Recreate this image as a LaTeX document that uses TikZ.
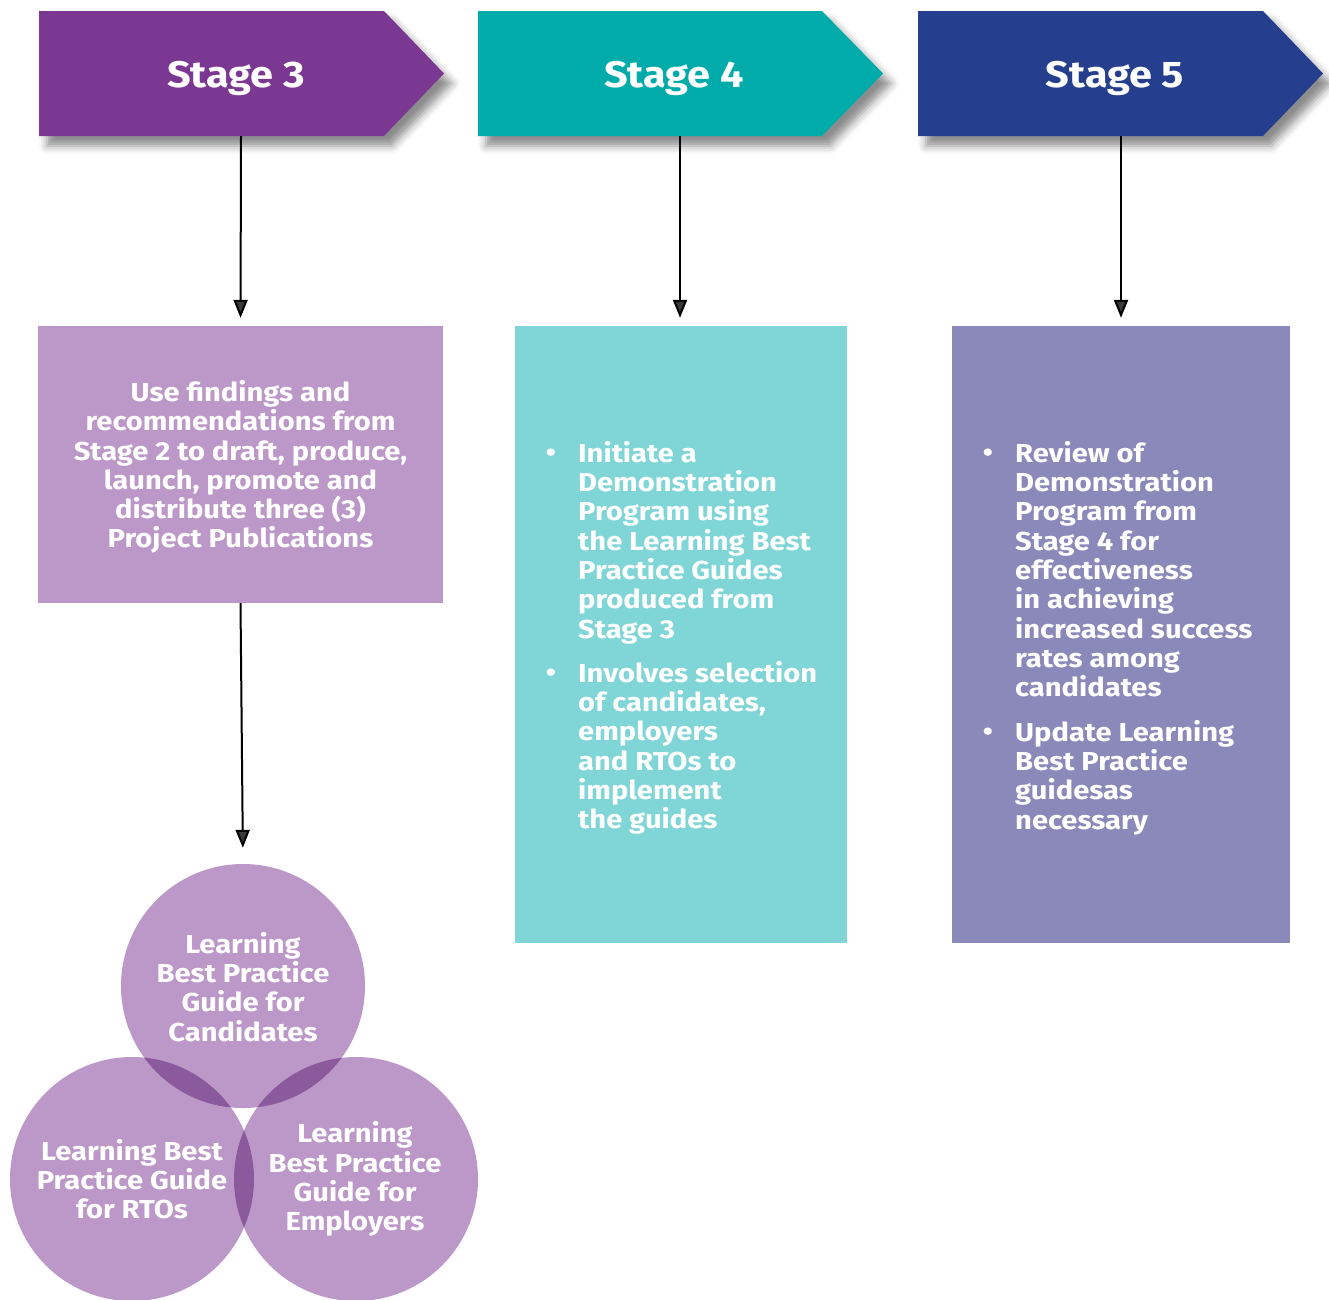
\documentclass[tikz,border=0pt]{standalone}
\usepackage{fontspec}
\setmainfont{Fira Sans}[FakeStretch=1.12]
\usetikzlibrary{shadows.blur,arrows.meta}
\definecolor{stthree}{HTML}{7B3892}
\definecolor{stfour}{HTML}{00ABAA}
\definecolor{stfive}{HTML}{253F8E}
\definecolor{bxthree}{HTML}{BC98C8}
\definecolor{bxfour}{HTML}{80D5D6}
\definecolor{bxfive}{HTML}{8A89BA}
\tikzset{
  stageshape/.style={blur shadow={shadow xshift=8pt, shadow yshift=-10pt, shadow blur radius=8pt, shadow opacity=45}},
  stagetext/.style={text=white, font=\fontsize{37}{40}\selectfont\bfseries, inner sep=0pt},
  bodytext/.style={text=white, font=\fontsize{26}{29.3}\selectfont\bfseries, inner sep=0pt},
  conn/.style={line width=2pt, -{Triangle[length=18pt,width=14pt]}},
  infobox/.style={draw=none, inner sep=0pt},
  venn/.style={circle, fill=bxthree, minimum size=244pt, inner sep=0pt}
}
\begin{document}
\begin{tikzpicture}[x=1pt,y=-1pt]
\useasboundingbox (0,0) rectangle (1329,1299);
% stage arrows
\path[fill=stthree, stageshape] (39,11) -- (384,11) -- (444,73.5) -- (384,136) -- (39,136) -- cycle;
\path[fill=stfour, stageshape] (478,11) -- (822,11) -- (883,73.5) -- (822,136) -- (478,136) -- cycle;
\path[fill=stfive, stageshape] (918,11) -- (1263,11) -- (1323,73.5) -- (1263,136) -- (918,136) -- cycle;
\node[stagetext] (s3) at (236,78) {Stage 3};
\node[stagetext] (s4) at (674,78) {Stage 4};
\node[stagetext] (s5) at (1115,78) {Stage 5};
\coordinate (s3b) at (241,136);
\coordinate (s4b) at (680,136);
\coordinate (s5b) at (1121,136);
% boxes
\node[infobox, fill=bxthree, minimum width=405pt, minimum height=277pt] (b3) at (240.5,464.5) {};
\node[infobox, fill=bxfour, minimum width=332pt, minimum height=617pt] (b4) at (681,634.5) {};
\node[infobox, fill=bxfive, minimum width=338pt, minimum height=617pt] (b5) at (1121,634.5) {};
\node[bodytext, align=center] (t3) at (240.5,467) {Use findings and\\recommendations from\\Stage 2 to draft, produce,\\launch, promote and\\distribute three (3)\\Project Publications};
% box 4 items
\node[bodytext] (d4a) at (551,455) {•};
\node[bodytext, align=left, anchor=north west] (t4a) at (578,441) {Initiate a\\Demonstration\\Program using\\the Learning Best\\Practice Guides\\produced from\\Stage 3};
\node[bodytext] (d4b) at (551,675) {•};
\node[bodytext, align=left, anchor=north west] (t4b) at (578,661) {Involves selection\\of candidates,\\employers\\and RTOs to\\implement\\the guides};
% box 5 items
\node[bodytext] (d5a) at (988,455) {•};
\node[bodytext, align=left, anchor=north west] (t5a) at (1015,441) {Review of\\Demonstration\\Program from\\Stage 4 for\\effectiveness\\in achieving\\increased success\\rates among\\candidates};
\node[bodytext] (d5b) at (988,734) {•};
\node[bodytext, align=left, anchor=north west] (t5b) at (1015,720) {Update Learning\\Best Practice\\guidesas\\necessary};
% venn circles
\begin{scope}[blend group=multiply]
\node[venn] (c1) at (243,986) {};
\node[venn] (c2) at (132,1179) {};
\node[venn] (c3) at (356,1179) {};
\end{scope}
\node[bodytext, align=center] (tc1) at (243,987) {Learning\\Best Practice\\Guide for\\Candidates};
\node[bodytext, align=center] (tc2) at (132,1179) {Learning Best\\Practice Guide\\for RTOs};
\node[bodytext, align=center] (tc3) at (355,1179) {Learning\\Best Practice\\Guide for\\Employers};
% connectors
\draw[conn, shorten >=8pt] (s3b) -- (b3.north);
\draw[conn, shorten >=8pt] (s4b) -- (b4.north -| s4b);
\draw[conn, shorten >=8pt] (s5b) -- (b5.north);
\draw[conn, shorten >=16pt] (b3.south) -- (c1.north);
\end{tikzpicture}
\end{document}
